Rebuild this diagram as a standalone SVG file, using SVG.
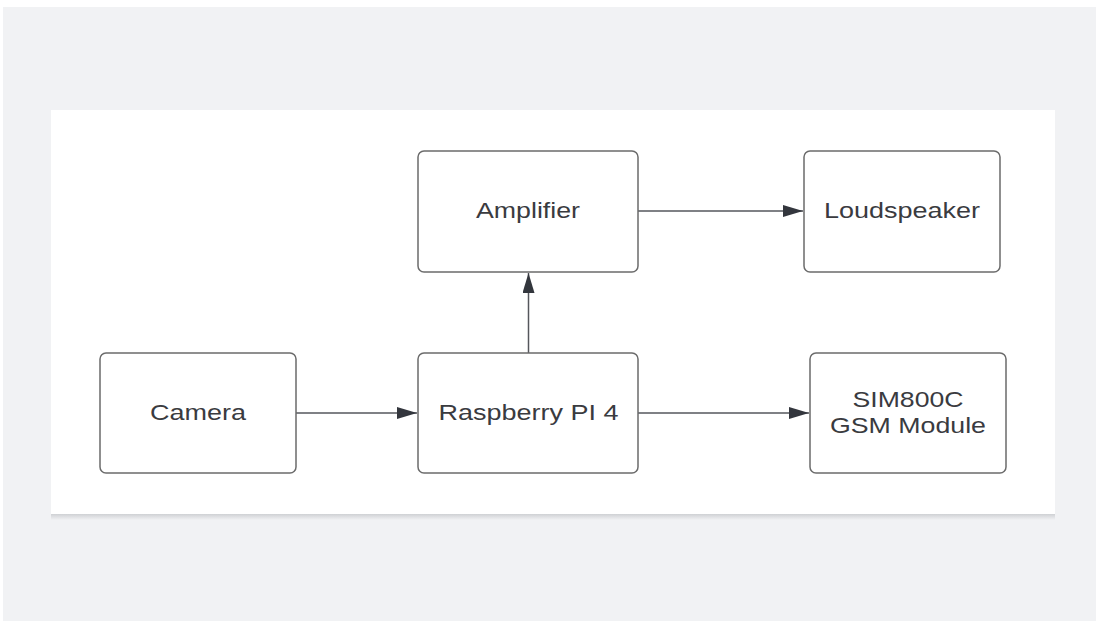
<svg xmlns="http://www.w3.org/2000/svg" width="1096" height="621" viewBox="0 0 1096 621">
<style>
.node rect{fill:#ffffff;stroke:#6b6b6b;stroke-width:1.5}
.node text{font-family:"Liberation Sans",Arial,sans-serif;font-size:22px;fill:#3a3b3f;text-anchor:middle}
.conn line{stroke:#55575c;stroke-width:1.5;fill:none}
</style>
<defs>
<marker id="ah" markerWidth="20" markerHeight="12" refX="20" refY="6" orient="auto" markerUnits="userSpaceOnUse">
<path d="M0,0 L20,6 L0,12 Z" fill="#33363d"/>
</marker>
<linearGradient id="sh" x1="0" y1="0" x2="0" y2="1">
<stop offset="0" stop-color="#cfd1d4"/>
<stop offset="1" stop-color="#f1f2f4"/>
</linearGradient>
</defs>
<rect x="0" y="0" width="1096" height="621" fill="#ffffff"/>
<rect x="3" y="7" width="1093" height="614" fill="#f1f2f4"/>
<rect x="51" y="514" width="1004" height="6" fill="url(#sh)"/>
<rect x="51" y="110" width="1004" height="404" fill="#ffffff"/>
<g class="conn">
<line x1="638" y1="211" x2="803" y2="211" marker-end="url(#ah)"/>
<line x1="296" y1="413" x2="417" y2="413" marker-end="url(#ah)"/>
<line x1="638" y1="413" x2="809" y2="413" marker-end="url(#ah)"/>
<line x1="528.5" y1="353" x2="528.5" y2="273" marker-end="url(#ah)"/>
</g>
<g id="amplifier" class="node">
<rect x="418" y="151" width="220" height="121" rx="6"/>
<text x="528" y="218" textLength="104" lengthAdjust="spacingAndGlyphs">Amplifier</text>
</g>
<g id="loudspeaker" class="node">
<rect x="804" y="151" width="196" height="121" rx="6"/>
<text x="902" y="218" textLength="156" lengthAdjust="spacingAndGlyphs">Loudspeaker</text>
</g>
<g id="camera" class="node">
<rect x="100" y="353" width="196" height="120" rx="6"/>
<text x="198" y="420" textLength="96" lengthAdjust="spacingAndGlyphs">Camera</text>
</g>
<g id="raspberry" class="node">
<rect x="418" y="353" width="220" height="120" rx="6"/>
<text x="528.5" y="420" textLength="180" lengthAdjust="spacingAndGlyphs">Raspberry PI 4</text>
</g>
<g id="sim800c" class="node">
<rect x="810" y="353" width="196" height="120" rx="6"/>
<text x="908" y="407" textLength="111" lengthAdjust="spacingAndGlyphs">SIM800C</text>
<text x="908" y="433" textLength="156" lengthAdjust="spacingAndGlyphs">GSM Module</text>
</g>
</svg>
